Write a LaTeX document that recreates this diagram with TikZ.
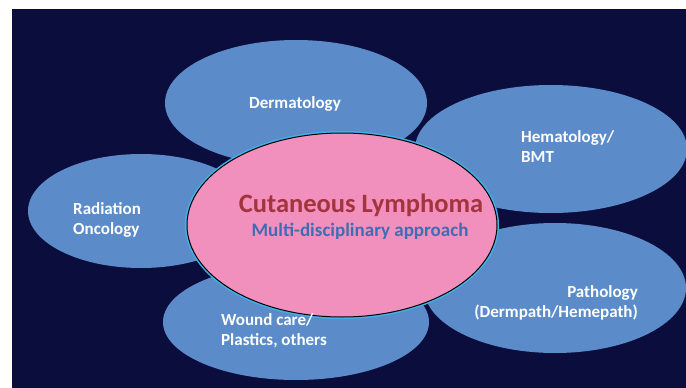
\documentclass[tikz,border=0pt]{standalone}
\usepackage{fontspec}
\setmainfont{Carlito}
\usetikzlibrary{shapes.geometric}
\definecolor{navy}{HTML}{0B0D3D}
\definecolor{petalblue}{HTML}{5B8CC9}
\definecolor{hubpink}{HTML}{F190BC}
\definecolor{hubred}{HTML}{A3343E}
\definecolor{hubblue}{HTML}{3E6DB4}
\definecolor{halo}{HTML}{3FB2E8}

\begin{document}
\begin{tikzpicture}[x=1pt,y=-1pt,
 petal/.style={ellipse,fill=petalblue,inner sep=0pt},
 hub/.style={ellipse,fill=hubpink,draw=black,line width=1pt,inner sep=0pt,
   preaction={draw=halo,line width=4pt}},
 tag/.style={text=white,font=\fontsize{17}{20}\selectfont\bfseries,inner sep=0pt}]
 \useasboundingbox (0,0) rectangle (686,388);
 \fill[white] (0,0) rectangle (686,388);
 \fill[navy] (12,9) rectangle (686,388);
 % petals
 \node[petal,minimum width=262pt,minimum height=126pt] (derm) at (296,103) {};
 \node[petal,minimum width=272pt,minimum height=128pt] (hema) at (551,149) {};
 \node[petal,minimum width=226pt,minimum height=114pt] (radio) at (141,211) {};
 \node[petal,minimum width=266pt,minimum height=116pt] (wound) at (296,322) {};
 \node[petal,minimum width=262pt,minimum height=130pt] (patho) at (555,288) {};
 % centre
 \node[hub,minimum width=310pt,minimum height=184pt] (hub) at (342,225) {};
 \node[text=hubred,font=\fontsize{26.5}{30}\selectfont\bfseries,anchor=base] (hub-title) at (361,212) {Cutaneous Lymphoma};
 \node[text=hubblue,font=\fontsize{19}{22}\selectfont\bfseries,anchor=base] (hub-sub) at (360,236) {Multi-disciplinary approach};
 % labels
 \node[tag,anchor=base] (derm-t) at (295,108) {Dermatology};
 \node[tag,align=left,anchor=west] (hema-t) at (521,147) {Hematology/\\BMT};
 \node[tag,align=left,anchor=west] (radio-t) at (73,220) {Radiation\\Oncology};
 \node[tag,align=left,anchor=west] (wound-t) at (221,331) {Wound care/\\Plastics, others};
 \node[tag,align=right,anchor=east] (patho-t) at (638,303) {Pathology\\(Dermpath/Hemepath)};
\end{tikzpicture}
\end{document}
